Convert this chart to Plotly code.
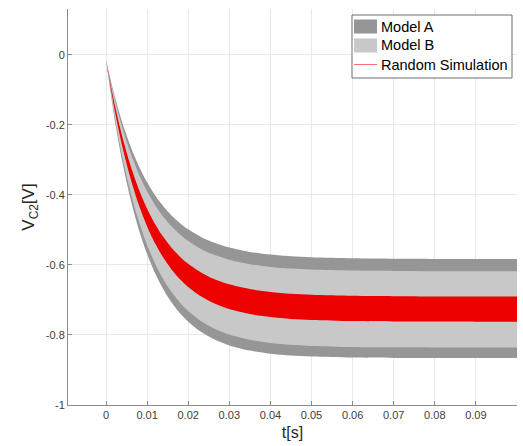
import plotly.graph_objects as go

# Time axis (s)
t = [0.000, 0.002, 0.004, 0.006, 0.008, 0.010, 0.012, 0.014, 0.016, 0.018,
     0.020, 0.023, 0.026, 0.030, 0.035, 0.040, 0.045, 0.050, 0.060, 0.070,
     0.080, 0.090, 0.100]

# Model A envelope (V)
model_a_upper = [-0.015, -0.1135, -0.1949, -0.2623, -0.3179, -0.3639, -0.4019, -0.4333,
                 -0.4592, -0.4807, -0.4984, -0.5194, -0.5352, -0.5504, -0.5627, -0.5704,
                 -0.5752, -0.5781, -0.5811, -0.5823, -0.5827, -0.5830, -0.5830]
model_a_lower = [-0.015, -0.1765, -0.3074, -0.4134, -0.4994, -0.5690, -0.6253, -0.6710,
                 -0.7081, -0.7380, -0.7623, -0.7904, -0.8109, -0.8298, -0.8446, -0.8534,
                 -0.8585, -0.8616, -0.8645, -0.8655, -0.8658, -0.8660, -0.8660]

# Model B envelope (V)
model_b_upper = [-0.015, -0.1214, -0.2090, -0.2812, -0.3407, -0.3896, -0.4299, -0.4631,
                 -0.4905, -0.5130, -0.5315, -0.5534, -0.5697, -0.5853, -0.5979, -0.6056,
                 -0.6103, -0.6133, -0.6162, -0.6173, -0.6178, -0.6180, -0.6180]
model_b_lower = [-0.015, -0.1680, -0.2924, -0.3937, -0.4761, -0.5431, -0.5977, -0.6421,
                 -0.6783, -0.7077, -0.7316, -0.7593, -0.7798, -0.7987, -0.8138, -0.8227,
                 -0.8280, -0.8312, -0.8343, -0.8354, -0.8358, -0.8360, -0.8360]

# Spread of the random simulation runs (V)
sim_upper = [-0.015, -0.1362, -0.2357, -0.3173, -0.3843, -0.4392, -0.4843, -0.5212,
             -0.5516, -0.5764, -0.5968, -0.6207, -0.6386, -0.6554, -0.6689, -0.6771,
             -0.6822, -0.6852, -0.6882, -0.6893, -0.6898, -0.6900, -0.6900]
sim_lower = [-0.015, -0.1516, -0.2633, -0.3545, -0.4291, -0.4899, -0.5397, -0.5804,
             -0.6136, -0.6408, -0.6629, -0.6888, -0.7079, -0.7259, -0.7402, -0.7489,
             -0.7541, -0.7572, -0.7603, -0.7614, -0.7618, -0.7620, -0.7620]

x_ticks = [0, 0.01, 0.02, 0.03, 0.04, 0.05, 0.06, 0.07, 0.08, 0.09]
x_tick_labels = ["0", "0.01", "0.02", "0.03", "0.04", "0.05", "0.06", "0.07", "0.08", "0.09"]
y_ticks = [-1, -0.8, -0.6, -0.4, -0.2, 0]
y_tick_labels = ["-1", "-0.8", "-0.6", "-0.4", "-0.2", "0"]

names = ["Model A", "Model B", "Random Simulation"]
colors = ["rgb(150,150,150)", "rgb(200,200,200)", "rgb(236,0,0)"]
legend_line_color = "rgb(255,110,110)"

W, H = 523, 446
ML, MR, MT, MB = 68, 6, 9, 41
FONT = "Liberation Sans, Arial, sans-serif"


def px_x(p):
    return (p - ML) / (W - ML - MR)


def px_y(p):
    return (H - MB - p) / (H - MT - MB)


fig = go.Figure()
bands = [
    (names[0], model_a_upper, model_a_lower, colors[0]),
    (names[1], model_b_upper, model_b_lower, colors[1]),
    (names[2], sim_upper, sim_lower, colors[2]),
]
for name, upper, lower, col in bands:
    fig.add_trace(go.Scatter(x=t, y=lower, mode="lines",
                             line=dict(width=0, shape="spline", smoothing=0.8),
                             showlegend=False, hoverinfo="skip"))
    fig.add_trace(go.Scatter(x=t, y=upper, mode="lines", name=name,
                             line=dict(width=0, shape="spline", smoothing=0.8),
                             fill="tonexty", fillcolor=col, showlegend=False))

# Legend box drawn in pixel positions
shapes = [
    dict(type="rect", xref="paper", yref="paper",
         x0=px_x(352), x1=px_x(512), y0=px_y(15), y1=px_y(78),
         line=dict(color="rgb(110,110,110)", width=1), fillcolor="white", layer="above"),
    dict(type="rect", xref="paper", yref="paper",
         x0=px_x(354), x1=px_x(377), y0=px_y(19.5), y1=px_y(33.5),
         line=dict(width=0), fillcolor=colors[0], layer="above"),
    dict(type="rect", xref="paper", yref="paper",
         x0=px_x(354), x1=px_x(377), y0=px_y(38.5), y1=px_y(52.5),
         line=dict(width=0), fillcolor=colors[1], layer="above"),
    dict(type="line", xref="paper", yref="paper",
         x0=px_x(354), x1=px_x(377), y0=px_y(64.5), y1=px_y(64.5),
         line=dict(color=legend_line_color, width=1), layer="above"),
]
annotations = []
for name, yc in zip(names, [26.5, 45.5, 64.5]):
    annotations.append(dict(text=name, xref="paper", yref="paper",
                            x=px_x(379), y=px_y(yc), xanchor="left", yanchor="middle",
                            showarrow=False, font=dict(family=FONT, size=14.5, color="black")))

axis_common = dict(
    showline=True, linecolor="rgb(140,140,140)", linewidth=1,
    ticks="inside", ticklen=4, tickcolor="rgb(140,140,140)",
    showgrid=True, gridcolor="rgb(232,232,232)", gridwidth=1,
    zeroline=False, automargin=False,
    tickfont=dict(family=FONT, size=11, color="rgb(64,64,64)"),
)

fig.update_layout(
    width=W, height=H,
    margin=dict(l=ML, r=MR, t=MT, b=MB),
    paper_bgcolor="white", plot_bgcolor="white",
    showlegend=False,
    xaxis=dict(range=[-0.00925, 0.1], tickmode="array", tickvals=x_ticks, ticktext=x_tick_labels,
               title=dict(text="t[s]", font=dict(family=FONT, size=16, color="rgb(40,40,40)"), standoff=6),
               **axis_common),
    yaxis=dict(range=[-1, 0.131], tickmode="array", tickvals=y_ticks, ticktext=y_tick_labels,
               title=dict(text="V<sub>C2</sub>[V]", font=dict(family=FONT, size=17, color="rgb(40,40,40)"), standoff=6),
               **axis_common),
    shapes=shapes,
    annotations=annotations,
)

fig.write_html("out.html")
